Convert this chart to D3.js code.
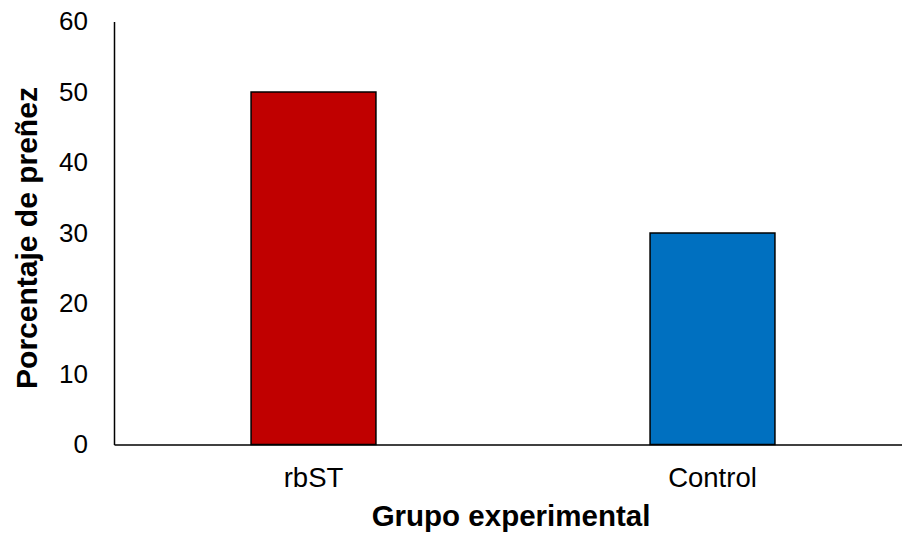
<!DOCTYPE html>
<html><head><meta charset="utf-8">
<script src="https://cdn.jsdelivr.net/npm/d3@7"></script>
<style>body{margin:0;background:#fff}svg{display:block}text{font-family:"Liberation Sans",Arial,sans-serif}</style>
</head><body>
<svg id="c" width="902" height="535"></svg>
<script>
const categories = ["rbST", "Control"];
const values = [50, 30];
const colors = ["#C00000", "#0070C0"];
const yTicks = [0, 10, 20, 30, 40, 50, 60];

const FONT = '"Liberation Sans",Arial,sans-serif';
const svg = d3.select("#c");
const x = d3.scaleBand().domain(categories).range([114, 912]).paddingInner(0.687).paddingOuter(0.3435);
const y = d3.scaleLinear().domain([0, 60]).range([444.5, 21.5]);

svg.selectAll("rect.bar").data(categories).enter().append("rect")
  .attr("x", d => x(d)).attr("width", x.bandwidth())
  .attr("y", (d, i) => y(values[i])).attr("height", (d, i) => y(0) - y(values[i]))
  .attr("fill", (d, i) => colors[i]).attr("stroke", "#000").attr("stroke-width", 1.5);

const yAxis = svg.append("g").attr("transform", "translate(114,0)")
  .call(d3.axisLeft(y).tickValues(yTicks).tickSize(0).tickPadding(26));
yAxis.select(".domain").attr("stroke", "#000").attr("stroke-width", 1.5);
yAxis.selectAll("text").attr("font-size", 26).attr("fill", "#000").style("font-family", FONT);

const xAxis = svg.append("g").attr("transform", "translate(0,444.5)")
  .call(d3.axisBottom(x).tickSize(0).tickPadding(23));
xAxis.select(".domain").attr("stroke", "#000").attr("stroke-width", 1.5);
xAxis.selectAll("text").attr("font-size", 27.5).attr("fill", "#000").style("font-family", FONT);

svg.append("text").attr("x", 511).attr("y", 526).attr("text-anchor", "middle")
  .attr("font-size", 29.5).attr("font-weight", "bold").text("Grupo experimental");
svg.append("text").attr("transform", "translate(37,238) rotate(-90)").attr("text-anchor", "middle")
  .attr("font-size", 30).attr("font-weight", "bold").text("Porcentaje de preñez");
</script>
</body></html>
